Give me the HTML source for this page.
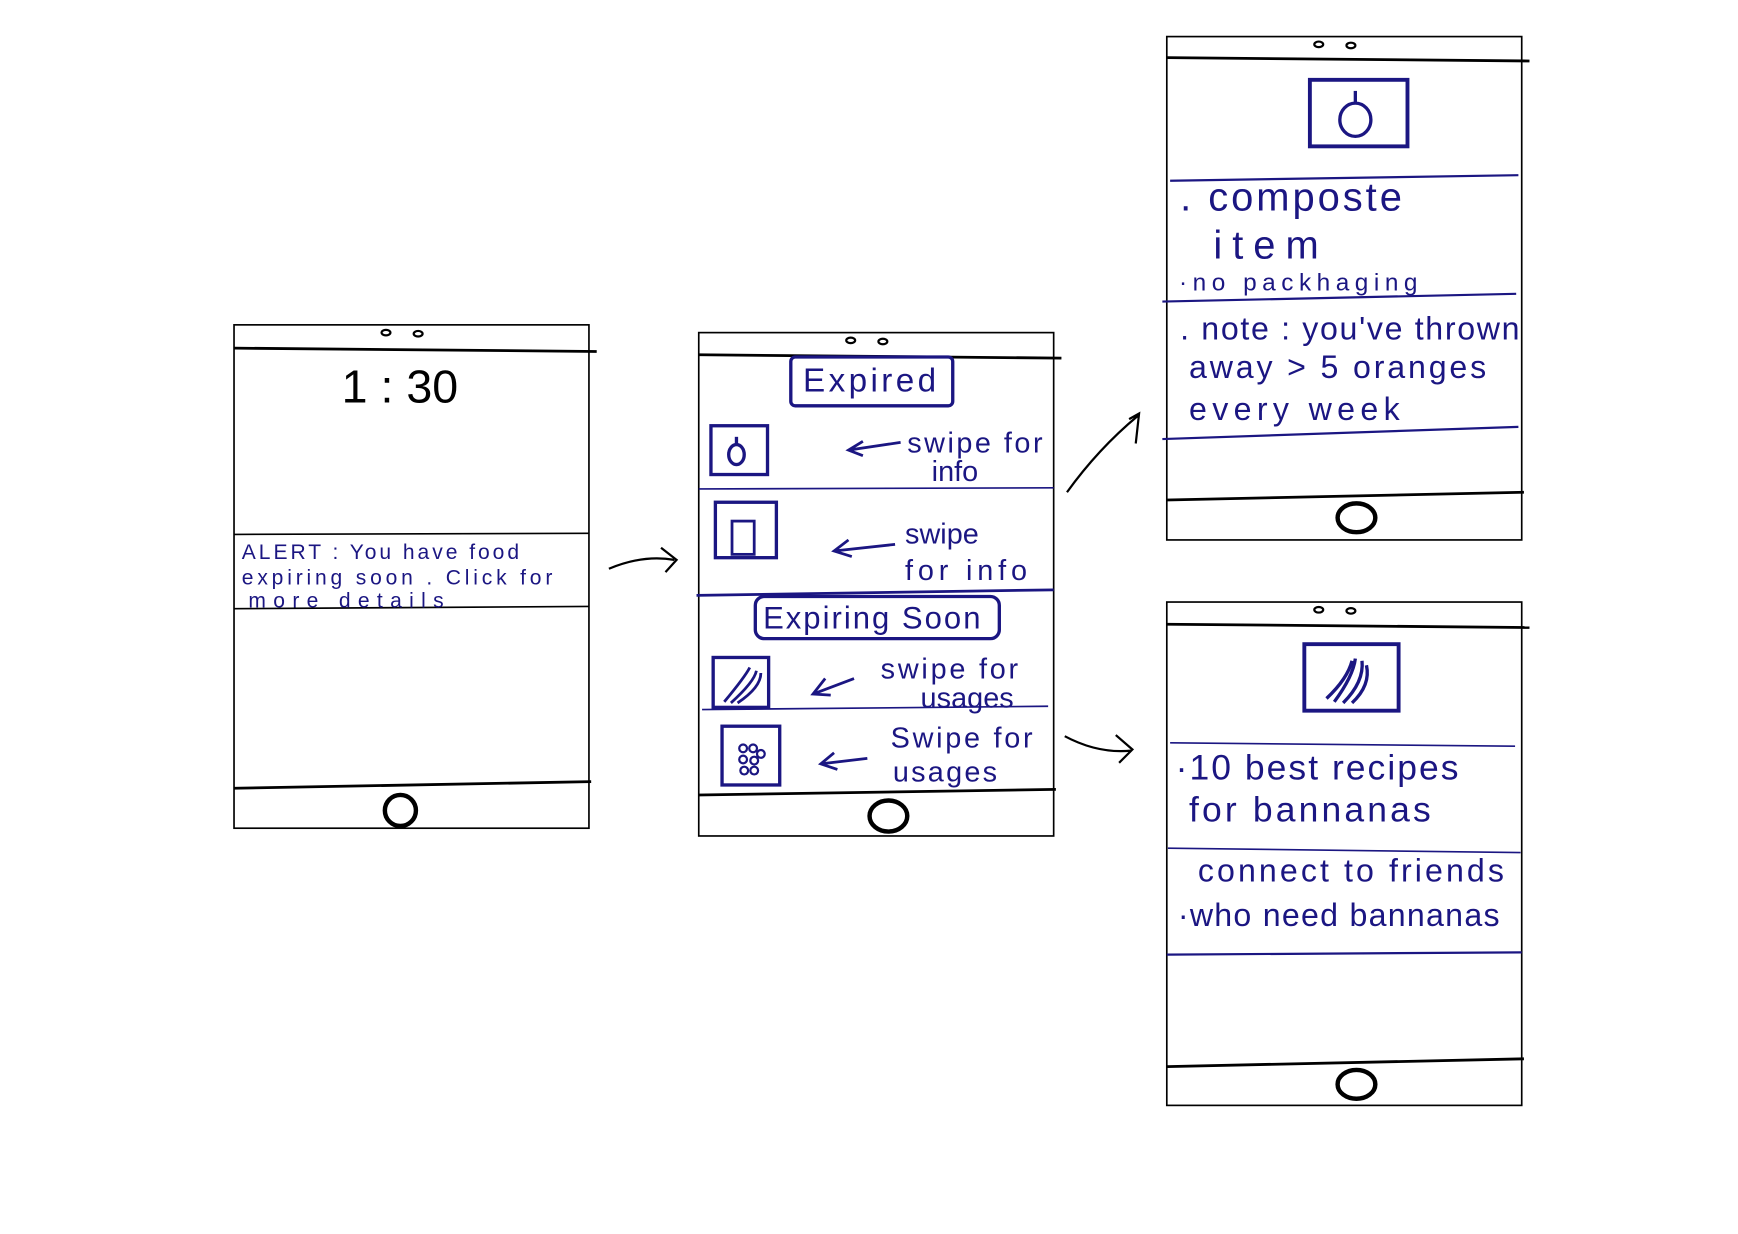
<!DOCTYPE html>
<html><head><meta charset="utf-8"><style>
html,body{margin:0;padding:0;background:#fff;width:1738px;height:1234px;overflow:hidden}
svg{display:block}
text{font-family:"Liberation Sans",sans-serif;fill:#1b1682}
.bk{stroke:#000;fill:none}
.bl{stroke:#1b1682;fill:none}
</style></head><body>
<svg width="1738" height="1234" viewBox="0 0 1567 1113" preserveAspectRatio="none">
<!-- Phone 1 -->
<rect x="211" y="293" width="320" height="454" class="bk" stroke-width="1.5"/>
<path d="M211 314 L538 317" class="bk" stroke-width="2.5"/>
<path d="M211 711 L533 705" class="bk" stroke-width="2.5"/>
<ellipse cx="348" cy="300" rx="4" ry="2.5" class="bk" stroke-width="2"/>
<ellipse cx="377" cy="301" rx="4" ry="2.5" class="bk" stroke-width="2"/>
<ellipse cx="361" cy="731" rx="14" ry="14" class="bk" stroke-width="4"/>
<text x="308" y="363" font-size="42" style="fill:#000">1 : 30</text>
<path d="M211 482 L531 481" class="bk" stroke-width="1.5"/>
<path d="M211 549 L531 547" class="bk" stroke-width="1.5"/>
<text x="218" y="504" font-size="19" textLength="250">ALERT : You have  food</text>
<text x="218" y="527" font-size="19" textLength="280">expiring  soon . Click for</text>
<text x="224" y="548" font-size="19" textLength="176">more    details</text>
<!-- arrow 1 -->
<path d="M549 513 Q580 500 608 505 M596 494 L610 505 L600 516" class="bk" stroke-width="2"/>
<!-- Phone 2 -->
<rect x="630" y="300" width="320" height="454" class="bk" stroke-width="1.5"/>
<path d="M630 320 L957 323" class="bk" stroke-width="2.5"/>
<path d="M630 717 L952 712" class="bk" stroke-width="2.5"/>
<ellipse cx="767" cy="307" rx="4" ry="2.5" class="bk" stroke-width="2"/>
<ellipse cx="796" cy="308" rx="4" ry="2.5" class="bk" stroke-width="2"/>
<ellipse cx="801" cy="736" rx="17" ry="14" class="bk" stroke-width="4"/>
<rect x="713" y="322" width="146" height="44" rx="4" class="bl" stroke-width="3"/>
<text x="724" y="353" font-size="30" textLength="120">Expired</text>
<rect x="641" y="384" width="51" height="44" class="bl" stroke-width="3"/>
<ellipse cx="664" cy="410" rx="7" ry="9" class="bl" stroke-width="3"/>
<path d="M664 401 L664 394" class="bl" stroke-width="3"/>
<path d="M765 406 L812 399 M778 398 L765 406 L778 411" class="bl" stroke-width="2.5"/>
<text x="818" y="408" font-size="26" textLength="122">swipe for</text>
<text x="840" y="434" font-size="26">info</text>
<path d="M630 441 L950 440" class="bl" stroke-width="1.5"/>
<rect x="645" y="453" width="55" height="50" class="bl" stroke-width="3"/>
<rect x="660" y="470" width="20" height="30" class="bl" stroke-width="2.5"/>
<path d="M752 497 L807 491 M765 487 L752 497 L768 502" class="bl" stroke-width="2.5"/>
<text x="816" y="490" font-size="26">swipe</text>
<text x="816" y="523" font-size="26" textLength="110">for  info</text>
<path d="M628 537 L950 532" class="bl" stroke-width="2.5"/>
<rect x="681" y="538" width="220" height="38" rx="8" class="bl" stroke-width="3"/>
<text x="688" y="567" font-size="28" textLength="196">Expiring  Soon</text>
<rect x="643" y="593" width="50" height="45" class="bl" stroke-width="3"/>
<path d="M653 633 Q672 610 676 602 M659 634 Q680 615 682 605 M665 634 Q686 620 686 607" class="bl" stroke-width="2.5"/>
<path d="M733 626 L770 612 M744 612 L733 626 L749 627" class="bl" stroke-width="2.5"/>
<text x="794" y="612" font-size="26" textLength="124">swipe for</text>
<text x="830" y="638" font-size="26" textLength="84">usages</text>
<path d="M633 640 L945 637" class="bl" stroke-width="1.5"/>
<rect x="651" y="655" width="52" height="53" class="bl" stroke-width="3"/>
<circle cx="670" cy="675" r="3.5" class="bl" stroke-width="2"/><circle cx="679" cy="675" r="3.5" class="bl" stroke-width="2"/><circle cx="686" cy="680" r="3.5" class="bl" stroke-width="2"/>
<circle cx="670" cy="685" r="3.5" class="bl" stroke-width="2"/><circle cx="680" cy="686" r="3.5" class="bl" stroke-width="2"/><circle cx="671" cy="695" r="3.5" class="bl" stroke-width="2"/><circle cx="680" cy="695" r="3.5" class="bl" stroke-width="2"/>
<path d="M740 689 L782 684 M752 679 L740 689 L755 694" class="bl" stroke-width="2.5"/>
<text x="803" y="674" font-size="26" textLength="128">Swipe for</text>
<text x="805" y="705" font-size="26" textLength="94">usages</text>
<!-- arrows 2 -->
<path d="M962 444 Q990 405 1026 375 M1018 378 L1027 373 L1024 400" class="bk" stroke-width="2"/>
<path d="M960 664 Q990 680 1020 677 M1006 663 L1021 676 L1009 688" class="bk" stroke-width="2"/>
<!-- Phone 3 -->
<rect x="1052" y="33" width="320" height="454" class="bk" stroke-width="1.5"/>
<path d="M1052 52 L1379 55" class="bk" stroke-width="2.5"/>
<path d="M1052 451 L1374 444" class="bk" stroke-width="2.5"/>
<ellipse cx="1189" cy="40" rx="4" ry="2.5" class="bk" stroke-width="2"/>
<ellipse cx="1218" cy="41" rx="4" ry="2.5" class="bk" stroke-width="2"/>
<ellipse cx="1223" cy="467" rx="17" ry="13" class="bk" stroke-width="4"/>
<rect x="1181" y="72" width="88" height="60" class="bl" stroke-width="3.5"/>
<ellipse cx="1222" cy="108" rx="14" ry="15" class="bl" stroke-width="3"/>
<path d="M1222 93 L1222 82" class="bl" stroke-width="3"/>
<path d="M1055 163 L1369 158" class="bl" stroke-width="2"/>
<text x="1064" y="190" font-size="36" textLength="200">. composte</text>
<text x="1094" y="233" font-size="36" textLength="95">item</text>
<text x="1063" y="262" font-size="22" textLength="215">·no  packhaging</text>
<path d="M1048 272 L1367 265" class="bl" stroke-width="2"/>
<text x="1064" y="306" font-size="29" textLength="306">. note : you've thrown</text>
<text x="1072" y="341" font-size="29" textLength="268">away  &gt; 5 oranges</text>
<text x="1072" y="379" font-size="29" textLength="190">every  week</text>
<path d="M1048 396 L1369 385" class="bl" stroke-width="2"/>
<!-- Phone 4 -->
<rect x="1052" y="543" width="320" height="454" class="bk" stroke-width="1.5"/>
<path d="M1052 563 L1379 566" class="bk" stroke-width="2.5"/>
<path d="M1052 962 L1374 955" class="bk" stroke-width="2.5"/>
<ellipse cx="1189" cy="550" rx="4" ry="2.5" class="bk" stroke-width="2"/>
<ellipse cx="1218" cy="551" rx="4" ry="2.5" class="bk" stroke-width="2"/>
<ellipse cx="1223" cy="978" rx="17" ry="13" class="bk" stroke-width="4"/>
<rect x="1176" y="581" width="85" height="60" class="bl" stroke-width="3.5"/>
<path d="M1203 633 Q1220 610 1222 594 M1211 634 Q1230 615 1228 596 M1219 634 Q1236 618 1232 600 M1196 630 Q1215 612 1219 596" class="bl" stroke-width="3"/>
<path d="M1055 670 L1366 673" class="bl" stroke-width="1.5"/>
<text x="1060" y="703" font-size="32" textLength="255">·10 best recipes</text>
<text x="1072" y="741" font-size="32" textLength="218">for bannanas</text>
<path d="M1053 765 L1371 769" class="bl" stroke-width="1.5"/>
<text x="1080" y="795" font-size="29" textLength="276">connect to friends</text>
<text x="1062" y="835" font-size="29" textLength="290">·who need bannanas</text>
<path d="M1052 861 L1372 859" class="bl" stroke-width="2"/>
</svg>
</body></html>
